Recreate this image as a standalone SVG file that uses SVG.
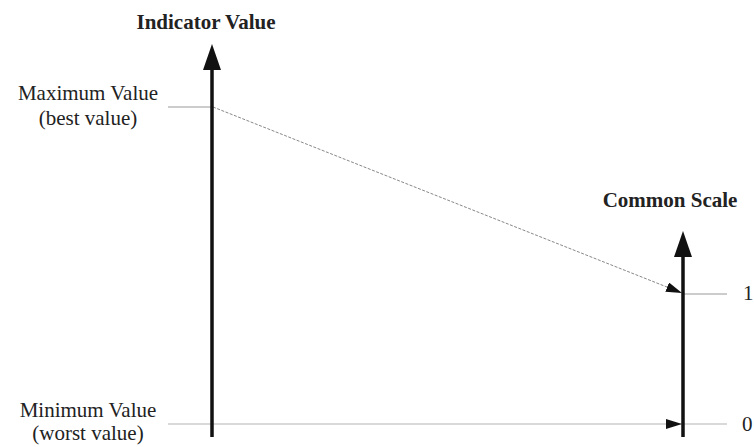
<svg xmlns="http://www.w3.org/2000/svg" width="754" height="447" viewBox="0 0 754 447">
<style>
.t{font-family:"Liberation Serif","DejaVu Serif",serif;fill:#222;font-size:21px}
.b{font-weight:bold;font-size:21px}
.axis{stroke:#111;stroke-width:3.5;fill:none}
.tick{stroke:#999;stroke-width:1.2;fill:none}
.light{stroke:#ccc;stroke-width:1.5;fill:none}
.dash{stroke:#888;stroke-width:1;stroke-dasharray:3 1.5;fill:none}
</style>
<defs>
<marker id="big" markerUnits="userSpaceOnUse" markerWidth="26" markerHeight="18" refX="0" refY="9" orient="auto" viewBox="0 0 26 18">
<path d="M0 0 L26 9 L0 18 Z" fill="#111"/>
</marker>
<marker id="small" markerUnits="userSpaceOnUse" markerWidth="16" markerHeight="10" refX="16" refY="5" orient="auto" viewBox="0 0 16 10">
<path d="M0 0 L16 5 L0 10 Z" fill="#111"/>
</marker>
</defs>
<rect width="754" height="447" fill="#fff"/>
<g id="connectors">
<line class="tick" x1="168" y1="107" x2="212" y2="107"/>
<line class="light" x1="168" y1="424" x2="727" y2="424"/>
<line x1="667" y1="424" x2="682" y2="424" marker-end="url(#small)" stroke="none"/>
<line class="tick" x1="683" y1="294" x2="727" y2="294"/>
<line class="dash" x1="213" y1="107" x2="682" y2="293" marker-end="url(#small)"/>
</g>
<g id="indicator-axis">
<line class="axis" x1="212" y1="437" x2="212" y2="70" marker-end="url(#big)"/>
<text class="t b" x="206" y="29" text-anchor="middle">Indicator Value</text>
</g>
<g id="common-axis">
<line class="axis" x1="683" y1="437" x2="683" y2="257" marker-end="url(#big)"/>
<text class="t b" x="670" y="207" text-anchor="middle">Common Scale</text>
</g>
<g id="max-label">
<text class="t" x="88" y="100" text-anchor="middle">Maximum Value</text>
<text class="t" x="88" y="125" text-anchor="middle">(best value)</text>
</g>
<g id="min-label">
<text class="t" x="88" y="417" text-anchor="middle">Minimum Value</text>
<text class="t" x="88" y="440" text-anchor="middle">(worst value)</text>
</g>
<g id="scale-labels">
<text class="t" x="743" y="300">1</text>
<text class="t" x="742" y="431">0</text>
</g>
</svg>
